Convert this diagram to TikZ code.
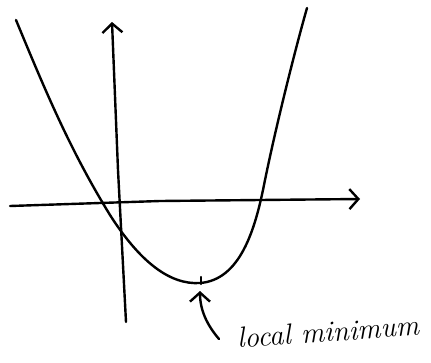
\documentclass[tikz,border=0pt]{standalone}
\usetikzlibrary{arrows.meta}
\begin{document}
\begin{tikzpicture}[x=1pt, y=-1pt, line width=2.4pt, line cap=round,
  >={Straight Barb[length=9pt,width=20pt]}]
  \useasboundingbox (0,0) rectangle (431,362);
  % axes
  \draw[->] (10,206) -- (160,201) -- (360,199);
  \draw[->] (126,322) -- (118,170) -- (112,22);
  % curve
  \draw (16,20) .. controls (45,90) and (70,150) .. (110,215)
    .. controls (140,262) and (170,285) .. (200,283)
    .. controls (240,280) and (255,230) .. (264,185)
    .. controls (275,130) and (295,50) .. (307,8);
  \draw (201,277) -- (201,284);
  % label
  \coordinate (minpt) at (200,291);
  \node[font=\fontsize{29}{31}\selectfont\itshape, rotate=4, anchor=west, inner sep=0pt] (lbl) at (236,338) {local minimum};
  \draw[->] (219,339) .. controls (207,325) and (200,310) .. (minpt);
\end{tikzpicture}
\end{document}
